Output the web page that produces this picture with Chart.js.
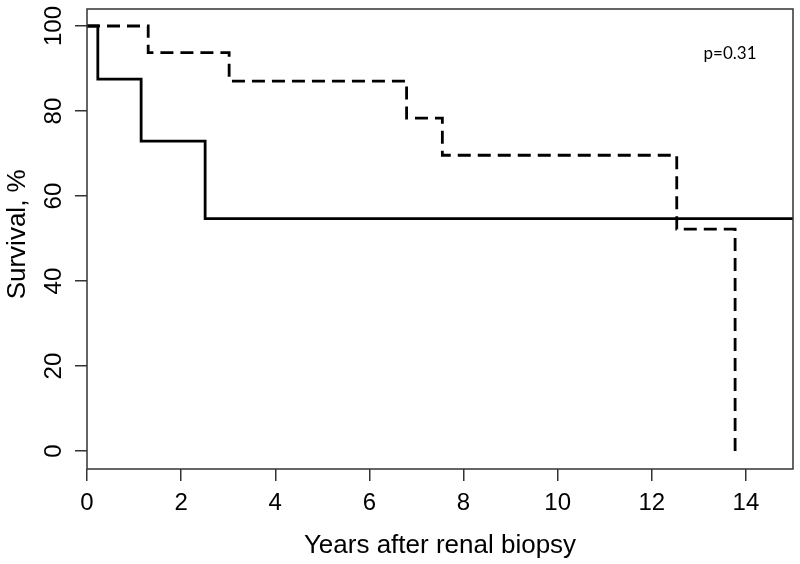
<!DOCTYPE html>
<html lang="en">
<head>
<meta charset="UTF-8">
<title>Survival</title>
<script src="https://cdn.jsdelivr.net/npm/chart.js"></script>
<style>
    body { margin: 0; background: #ffffff; }
    #wrap { width: 800px; height: 564px; }
</style>
</head>
<body>
<div id="wrap"><canvas id="km"></canvas></div>
<script>
    // survival curves (time in years, survival %)
    const solidTimes = [0, 0.23, 1.15, 2.51, 15];
    const solidSurv = [100, 87.5, 72.9, 54.7, 54.7];
    const dashedTimes = [0, 1.3, 3.02, 6.79, 7.55, 12.53, 13.77];
    const dashedSurv = [100, 93.75, 87.05, 78.35, 69.6, 52.2, 0];
    const xTicks = [0, 2, 4, 6, 8, 10, 12, 14];
    const yTicks = [0, 20, 40, 60, 80, 100];
    const yTitle = 'Survival, %';
    const pLabel = 'p=0.31';

    const font = "'Liberation Sans', Arial, sans-serif";
    const toPts = (xs, ys) => xs.map((x, i) => ({ x: x, y: ys[i] }));

    // frame, rotated y labels, y title and p-value
    const extras = {
        id: 'extras',
        afterDraw(chart) {
            const ctx = chart.ctx;
            const a = chart.chartArea;
            const ys = chart.scales.y;
            ctx.save();
            ctx.strokeStyle = '#333';
            ctx.lineWidth = 1.5;
            ctx.strokeRect(a.left, a.top, a.right - a.left, a.bottom - a.top);

            ctx.fillStyle = '#000';
            ctx.font = '24px ' + font;
            ctx.textAlign = 'center';
            ctx.textBaseline = 'middle';
            yTicks.forEach(v => {
                ctx.save();
                ctx.translate(54, ys.getPixelForValue(v));
                ctx.rotate(-Math.PI / 2);
                ctx.fillText(String(v), 0, 0);
                ctx.restore();
            });

            ctx.save();
            ctx.font = '26px ' + font;
            ctx.translate(18, ys.getPixelForValue(51));
            ctx.rotate(-Math.PI / 2);
            ctx.fillText(yTitle, 0, 0);
            ctx.restore();

            ctx.font = "17px Lato, 'Open Sans', sans-serif";
            ctx.fillText(pLabel, 730, 54);
            ctx.restore();
        }
    };

    new Chart(document.getElementById('km'), {
        type: 'line',
        data: {
            datasets: [{
                data: toPts(solidTimes, solidSurv),
                borderColor: '#000',
                borderWidth: 2.8,
                stepped: 'before',
                pointRadius: 0,
                fill: false
            }, {
                data: toPts(dashedTimes, dashedSurv),
                borderColor: '#000',
                borderWidth: 2.8,
                borderDash: [13, 7],
                stepped: 'before',
                pointRadius: 0,
                fill: false
            }]
        },
        options: {
            responsive: true,
            maintainAspectRatio: false,
            animation: false,
            layout: { padding: { top: 9, right: 7, left: 0, bottom: 0 } },
            plugins: { legend: { display: false }, tooltip: { enabled: false } },
            scales: {
                x: {
                    type: 'linear',
                    min: 0,
                    max: 15,
                    afterBuildTicks: s => { s.ticks = xTicks.map(v => ({ value: v })); },
                    afterFit: s => { s.height = 95; },
                    border: { display: false },
                    grid: { drawOnChartArea: false, drawTicks: true, tickLength: 12, color: '#333', lineWidth: 1.5 },
                    ticks: { color: '#000', font: { family: font, size: 24 }, padding: 8, maxRotation: 0 },
                    title: {
                        display: true,
                        text: 'Years after renal biopsy',
                        color: '#000',
                        font: { family: font, size: 26 },
                        padding: { top: 0, bottom: 3 }
                    }
                },
                y: {
                    min: -4.2,
                    max: 104,
                    afterBuildTicks: s => { s.ticks = yTicks.map(v => ({ value: v })); },
                    afterFit: s => { s.width = 87; },
                    border: { display: false },
                    grid: { drawOnChartArea: false, drawTicks: true, tickLength: 12, color: '#333', lineWidth: 1.5 },
                    ticks: { display: false },
                    title: { display: false }
                }
            }
        },
        plugins: [extras]
    });
</script>
</body>
</html>
